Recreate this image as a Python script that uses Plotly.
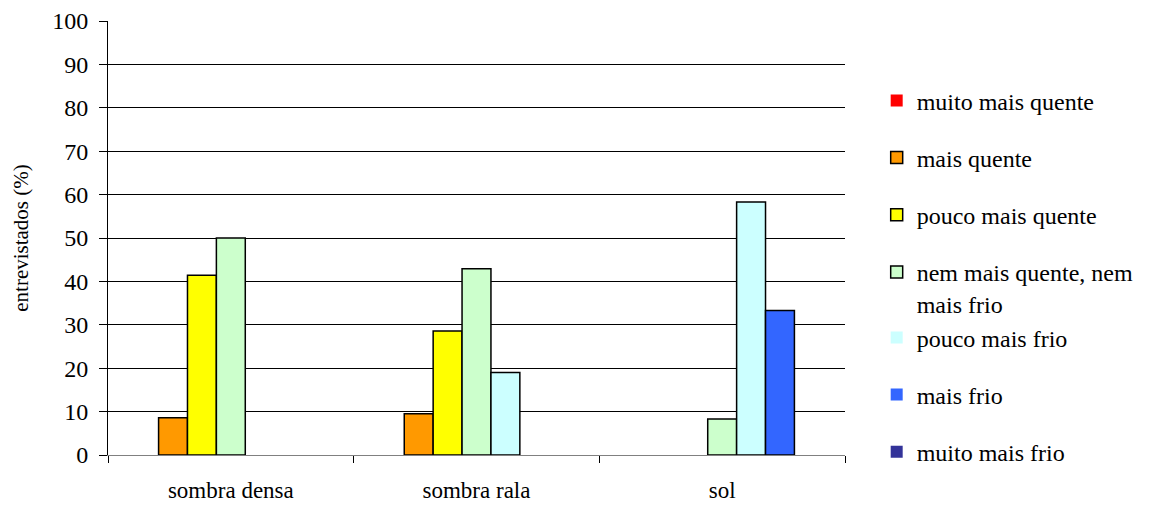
import plotly.graph_objects as go

FONT = "Liberation Serif, Tinos, DejaVu Serif, serif"

categorias = ["sombra densa", "sombra rala", "sol"]

respostas = [
    "muito mais quente",
    "mais quente",
    "pouco mais quente",
    "nem mais quente, nem<br>mais frio",
    "pouco mais frio",
    "mais frio",
    "muito mais frio",
]

# entrevistados (%) por resposta, na ordem de categorias
muito_mais_quente = [0, 0, 0]
mais_quente = [8.6, 9.5, 0]
pouco_mais_quente = [41.4, 28.6, 0]
nem_quente_nem_frio = [50.0, 42.9, 8.3]
pouco_mais_frio = [0, 19.0, 58.3]
mais_frio = [0, 0, 33.3]
muito_mais_frio = [0, 0, 0]

series = [
    muito_mais_quente,
    mais_quente,
    pouco_mais_quente,
    nem_quente_nem_frio,
    pouco_mais_frio,
    mais_frio,
    muito_mais_frio,
]
cores = ["#FF0000", "#FF9900", "#FFFF00", "#CCFFCC", "#CCFFFF", "#3366FF", "#333399"]
# the two-line entry shares a group with the next one so the legend stays compact
grupos = ["g0", "g1", "g2", "g3", "g3", "g5", "g6"]

fig = go.Figure()
for nome, valores, cor, grupo in zip(respostas, series, cores, grupos):
    fig.add_trace(
        go.Bar(
            x=categorias,
            y=valores,
            name=nome,
            legendgroup=grupo,
            marker={
                "color": cor,
                # no outline on empty bars, as in the original chart
                "line": {"color": "#000000", "width": [1.5 if v > 0 else 0 for v in valores]},
            },
            hovertemplate="%{x}<br>%{y:.1f}%<extra>" + nome.replace("<br>", " ") + "</extra>",
        )
    )

fig.update_layout(
    width=1152,
    height=505,
    barmode="group",
    bargap=0.1765,
    bargroupgap=0,
    plot_bgcolor="#ffffff",
    paper_bgcolor="#ffffff",
    margin={"l": 108, "r": 307, "t": 21, "b": 50},
    font={"family": FONT, "color": "#000000", "size": 22},
    legend={
        "x": 1.043,
        "xanchor": "left",
        "y": 0.868,
        "yanchor": "top",
        "font": {"family": FONT, "size": 24},
        "valign": "top",
        "tracegroupgap": 23,
        "itemwidth": 30,
    },
    xaxis={
        "automargin": False,
        "showline": True,
        "linecolor": "#808080",
        "linewidth": 1,
        "ticks": "outside",
        "tickson": "boundaries",
        "ticklen": 7,
        "tickcolor": "#000000",
        "tickfont": {"family": FONT, "size": 23},
        "ticklabelstandoff": 14,
    },
    yaxis={
        "automargin": False,
        "range": [0, 100],
        "dtick": 10,
        "showline": True,
        "linecolor": "#000000",
        "linewidth": 1,
        "ticks": "outside",
        "ticklen": 8,
        "tickcolor": "#000000",
        "showgrid": True,
        "gridcolor": "#000000",
        "gridwidth": 1,
        "zeroline": False,
        "tickfont": {"family": FONT, "size": 24},
        "ticklabelstandoff": 6,
        "title": {"text": "entrevistados (%)", "font": {"family": FONT, "size": 21}, "standoff": 17},
    },
)

# the page's default body margin would push the 1152x505 figure off the window
fig.write_html(
    "out.html",
    config={"displayModeBar": False},
    post_script="document.body.style.margin = '0';",
)
